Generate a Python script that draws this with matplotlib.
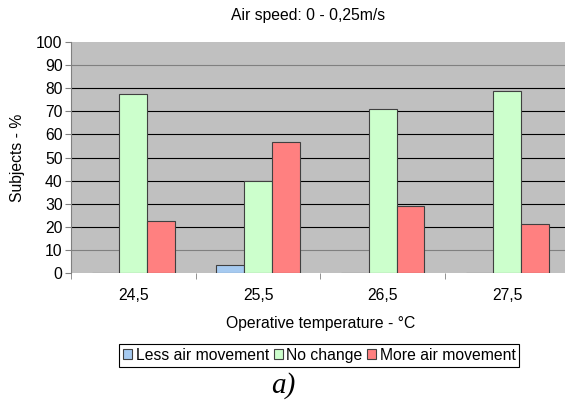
import matplotlib
matplotlib.use("Agg")
import matplotlib.pyplot as plt
import numpy as np

plt.rcParams['font.family'] = ['Liberation Sans', 'DejaVu Sans']

# share of subjects per operative temperature (%)
temps = ['24,5', '25,5', '26,5', '27,5']
less_air = [0, 3.3, 0, 0]
no_change = [77.4, 40.0, 71.0, 78.8]
more_air = [22.6, 56.7, 29.0, 21.2]

series = [
    ('Less air movement', less_air, '#A6CAF0'),
    ('No change', no_change, '#CCFFCC'),
    ('More air movement', more_air, '#FF8080'),
]

fs = 11.3

fig = plt.figure(figsize=(5.65, 4.05), dpi=100)
ax = fig.add_axes([0.1257, 0.326, 0.8825, 0.570])
ax.set_facecolor('#C0C0C0')

x = np.arange(len(temps))
w = 1 / 4.5
for i, (name, vals, col) in enumerate(series):
    ax.bar(x + (i - 1) * w, vals, w, color=col, edgecolor='#404040',
           linewidth=0.8, label=name, zorder=3)

ax.set_xlim(-0.5, len(temps) - 0.5)
ax.set_ylim(0, 100)
ax.set_yticks(range(0, 101, 10))
for v in range(10, 100, 10):
    c = '#808080' if v in (10, 90) else 'black'
    ax.axhline(v, color=c, linewidth=0.8, zorder=1)

ax.set_xticks(x)
ax.set_xticklabels(temps)
ax.set_xticks(np.arange(-0.5, len(temps)), minor=True)
ax.tick_params(axis='x', which='major', length=0, pad=11, labelsize=fs)
ax.tick_params(axis='x', which='minor', length=4, color='#808080', direction='out')
ax.tick_params(axis='y', length=4, color='#808080', labelsize=fs, pad=2)

for s in ['top', 'right', 'bottom']:
    ax.spines[s].set_visible(False)
ax.spines['left'].set_color('#808080')

ax.set_xlabel('Operative temperature - °C', fontsize=fs, labelpad=9)
ax.set_ylabel('Subjects - %', fontsize=fs, labelpad=8)
fig.text(0.545, 0.962, 'Air speed: 0 - 0,25m/s', ha='center', va='center', fontsize=fs)

leg = fig.legend(loc='center', bbox_to_anchor=(0.565, 0.123), ncol=3, fontsize=fs,
                 frameon=True, fancybox=False, edgecolor='black', framealpha=1,
                 handlelength=0.6, handleheight=0.6, handletextpad=0.2,
                 columnspacing=0.3, borderpad=0.25, borderaxespad=0)
leg.get_frame().set_linewidth(0.8)

fig.text(0.502, 0.048, 'a)', ha='center', va='center', fontsize=21,
         family='Liberation Serif', style='italic')

fig.savefig('out.png', dpi=100)
